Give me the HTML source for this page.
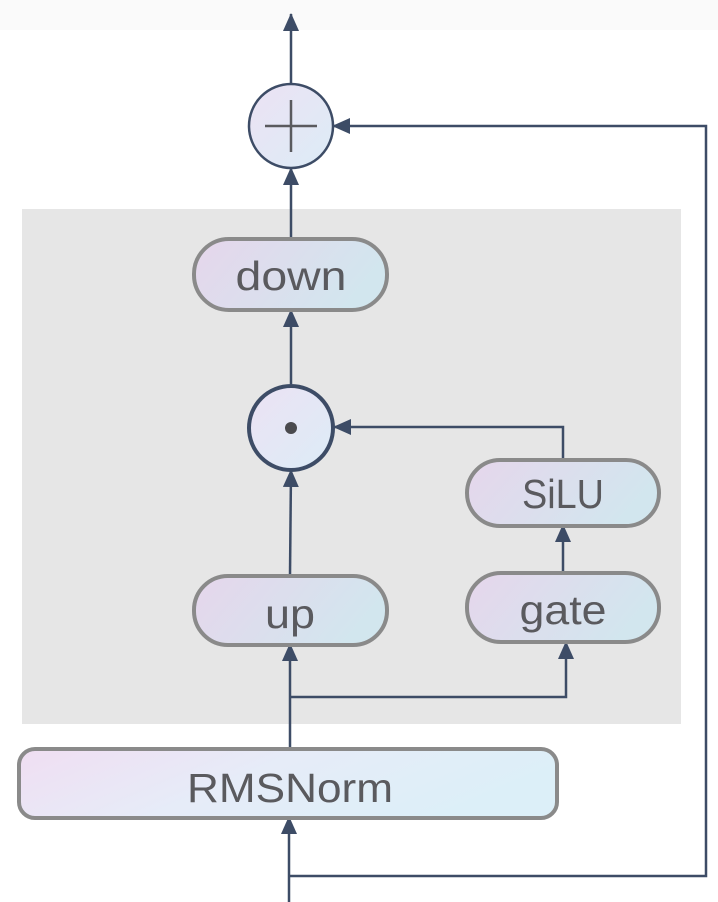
<!DOCTYPE html>
<html><head><meta charset="utf-8"><style>
html,body{margin:0;padding:0;background:#fff;}
svg{display:block;}
text{font-family:"Liberation Sans",sans-serif;fill:#5a5a5e;}
</style></head><body>
<svg width="718" height="902" viewBox="0 0 718 902" xmlns="http://www.w3.org/2000/svg">
<defs>
<linearGradient id="g" x1="0" y1="0" x2="1" y2="0.3">
<stop offset="0" stop-color="#e6d6ec"/><stop offset="1" stop-color="#d2e6ee"/>
</linearGradient>
<linearGradient id="g2" x1="0" y1="0" x2="1" y2="0.3">
<stop offset="0" stop-color="#f0def2"/><stop offset="0.5" stop-color="#e6ecf8"/><stop offset="1" stop-color="#dceff8"/>
</linearGradient>
<linearGradient id="gc" x1="0" y1="0" x2="1" y2="1">
<stop offset="0" stop-color="#ece2f4"/><stop offset="1" stop-color="#dcecf6"/>
</linearGradient>
<marker id="a" markerWidth="18" markerHeight="16" refX="17" refY="8" orient="auto" markerUnits="userSpaceOnUse" viewBox="0 0 18 16">
<path d="M0,0 L18,8 L0,16 z" fill="#3d4c66"/>
</marker>
</defs>
<rect x="0" y="0" width="718" height="30" fill="#fafafa"/>
<rect x="22" y="209" width="659" height="515" fill="#e6e6e6"/>
<g stroke="#3d4c66" stroke-width="2.5" fill="none">
<line x1="291" y1="83" x2="291" y2="14" marker-end="url(#a)"/>
<line x1="291" y1="238" x2="291" y2="168" marker-end="url(#a)"/>
<line x1="291" y1="384" x2="291" y2="310" marker-end="url(#a)"/>
<line x1="290" y1="575" x2="291" y2="470" marker-end="url(#a)"/>
<polyline points="563,459 563,427 334,427" marker-end="url(#a)"/>
<line x1="563" y1="572" x2="563" y2="525" marker-end="url(#a)"/>
<line x1="290" y1="748" x2="290" y2="644" marker-end="url(#a)"/>
<polyline points="290,697 566,697 566,642" marker-end="url(#a)"/>
<line x1="289" y1="902" x2="289" y2="817" marker-end="url(#a)"/>
<polyline points="289,876 706,876 706,126 333,126" marker-end="url(#a)"/>
</g>
<circle cx="291" cy="126" r="42" fill="url(#gc)" stroke="#3d4c66" stroke-width="2.5"/>
<line x1="265" y1="126" x2="317" y2="126" stroke="#5a5a5e" stroke-width="2.5"/>
<line x1="291" y1="100" x2="291" y2="152" stroke="#5a5a5e" stroke-width="2.5"/>
<circle cx="291" cy="428" r="42" fill="url(#gc)" stroke="#3d4c66" stroke-width="4"/>
<circle cx="291" cy="428" r="6" fill="#4a4a4e"/>
<g stroke="#8a8a8a" stroke-width="4">
<rect x="194" y="239" width="193" height="71" rx="35" fill="url(#g)"/>
<rect x="467" y="460" width="192" height="66" rx="33" fill="url(#g)"/>
<rect x="194" y="576" width="193" height="69" rx="34" fill="url(#g)"/>
<rect x="467" y="573" width="192" height="69" rx="34" fill="url(#g)"/>
<rect x="19" y="749" width="538" height="69" rx="16" fill="url(#g2)"/>
</g>
<g font-size="41" text-anchor="middle">
<text x="291" y="290" textLength="111" lengthAdjust="spacingAndGlyphs">down</text>
<text x="563" y="508" textLength="82" lengthAdjust="spacingAndGlyphs">SiLU</text>
<text x="290" y="628" textLength="50" lengthAdjust="spacingAndGlyphs">up</text>
<text x="563" y="624" textLength="87" lengthAdjust="spacingAndGlyphs">gate</text>
<text x="290" y="802" textLength="206" lengthAdjust="spacingAndGlyphs">RMSNorm</text>
</g>
</svg>
</body></html>
